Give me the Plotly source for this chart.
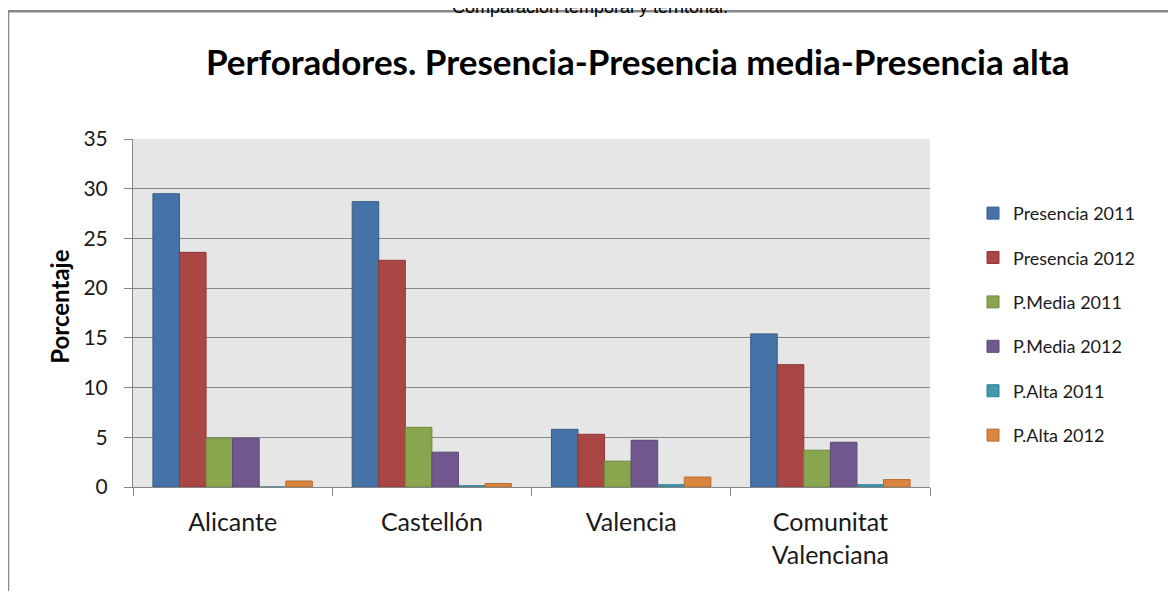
import plotly.graph_objects as go

categories = ["Alicante", "Castellón", "Valencia", "Comunitat<br>Valenciana"]
series_names = ["Presencia 2011", "Presencia 2012", "P.Media 2011", "P.Media 2012", "P.Alta 2011", "P.Alta 2012"]
presencia_2011 = [29.5, 28.7, 5.8, 15.4]
presencia_2012 = [23.6, 22.8, 5.3, 12.3]
pmedia_2011 = [4.9, 6.0, 2.6, 3.7]
pmedia_2012 = [4.9, 3.5, 4.7, 4.5]
palta_2011 = [0.0, 0.13, 0.23, 0.23]
palta_2012 = [0.6, 0.35, 1.0, 0.75]
series_values = [presencia_2011, presencia_2012, pmedia_2011, pmedia_2012, palta_2011, palta_2012]

fill_colors = ["#4572A7", "#AA4643", "#89A54E", "#71588F", "#4198AF", "#DB843D"]
line_colors = ["#385D8A", "#8C3836", "#71893F", "#5C4776", "#357D91", "#B66D31"]

# page offset of the figure inside the browser (body margin)
OFF = 8
W, H = 1176 - 2 * OFF, 599 - 2 * OFF
L, R, T, B = 133 - OFF, W - (930 - OFF), 139 - OFF, H - (487.5 - OFF)
PW, PH = W - L - R, H - T - B

def px_x(xs):
    return (xs - OFF - L) / PW

def px_y(ys):
    return (H - B - (ys - OFF)) / PH

fig = go.Figure()
for name, vals, fc, lc in zip(series_names, series_values, fill_colors, line_colors):
    fig.add_trace(go.Bar(
        name=name, x=categories, y=vals, legendgroup=name,
        marker=dict(color=fc, line=dict(color=lc, width=1)),
    ))

fig.update_layout(
    width=W, height=H,
    margin=dict(l=L, r=R, t=T, b=B),
    paper_bgcolor="white",
    plot_bgcolor="#E6E6E6",
    barmode="group",
    bargap=0.2,
    bargroupgap=0,
    font=dict(family="Lato", color="#1a1a1a"),
    showlegend=True,
    legend=dict(
        x=px_x(973), y=px_y(195), xanchor="left", yanchor="top",
        font=dict(family="Lato", size=18, color="#1a1a1a"),
        tracegroupgap=18, bgcolor="rgba(0,0,0,0)",
    ),
    xaxis=dict(
        showline=True, linecolor="#868686", linewidth=1,
        ticks="outside", tickson="boundaries", ticklen=8, tickcolor="#868686",
        tickfont=dict(family="Lato", size=25, color="#1a1a1a"),
        ticklabelstandoff=13,
        showgrid=False,
    ),
    yaxis=dict(
        range=[0, 35], dtick=5, tick0=0,
        showline=True, linecolor="#868686", linewidth=1,
        ticks="outside", ticklen=8, tickcolor="#868686",
        tickfont=dict(family="Lato", size=21, color="#1a1a1a"),
        ticklabelstandoff=12,
        showgrid=True, gridcolor="#878787", gridwidth=1,
        zeroline=False,
    ),
    annotations=[
        dict(text="<b>Perforadores. Presencia-Presencia media-Presencia alta</b>",
             xref="paper", yref="paper", x=px_x(638), y=px_y(61),
             xanchor="center", yanchor="middle", showarrow=False,
             font=dict(family="Lato", size=35, color="black")),
        dict(text="Comparación temporal y territorial.",
             xref="paper", yref="paper", x=px_x(590), y=px_y(19),
             xanchor="center", yanchor="bottom", showarrow=False,
             font=dict(family="Liberation Sans", size=18, color="black")),
        dict(text="<b>Porcentaje</b>", textangle=-90,
             xref="paper", yref="paper", x=px_x(60), y=px_y(307),
             xanchor="center", yanchor="middle", showarrow=False,
             font=dict(family="Lato", size=24, color="black")),
    ],
    shapes=[
        dict(type="rect", xref="paper", yref="paper",
             x0=px_x(8), x1=px_x(1220), y0=px_y(11), y1=px_y(660),
             line=dict(color="#888888", width=2.5), fillcolor="rgba(0,0,0,0)", layer="below"),
    ],
)

fig.write_html("out.html")
